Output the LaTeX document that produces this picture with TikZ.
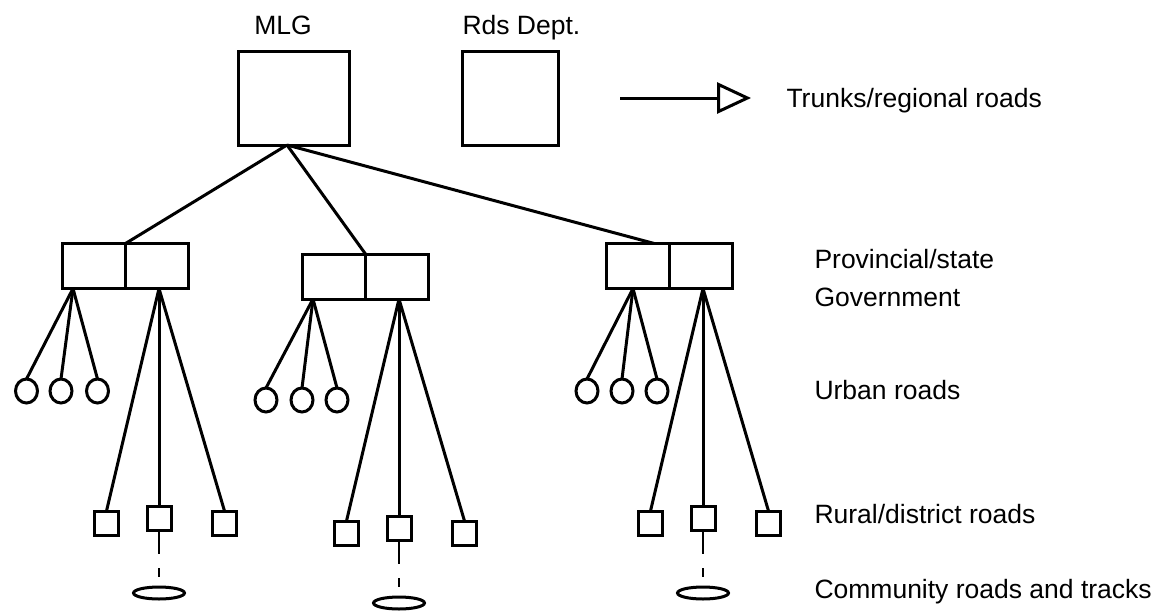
\documentclass[tikz,border=0pt]{standalone}
\usepackage{fontspec}
\setmainfont{Liberation Sans}
\usetikzlibrary{positioning,shapes.geometric,arrows.meta}

\begin{document}
\begin{tikzpicture}[x=1pt,y=-1pt,line width=3pt,
		box/.style={draw,inner sep=0pt,outer sep=0pt,minimum width=63pt,minimum height=45pt},
		urban/.style={draw,ellipse,inner sep=0pt,outer sep=0pt,minimum width=22pt,minimum height=24pt},
		rural/.style={draw,inner sep=0pt,outer sep=0pt,minimum size=24pt},
		community/.style={draw,ellipse,inner sep=0pt,outer sep=0pt,minimum width=51pt,minimum height=12pt},
		lbl/.style={inner sep=0pt,anchor=base west,font=\fontsize{26.5}{31}\selectfont},
		track/.style={line width=1.2pt,dash pattern=on 24pt off 14pt on 9pt off 20pt}]
		\useasboundingbox (0,0) rectangle (1157,611);
		
		\node[draw,inner sep=0pt,outer sep=0pt,minimum width=111pt,minimum height=94pt] (mlg) at (293.5,98) {};
		\node[draw,inner sep=0pt,outer sep=0pt,minimum width=96pt,minimum height=94pt] (rds) at (510,98) {};
		\node[lbl,anchor=base] (lmlg) at (283,34) {MLG};
		\node[lbl] (lrds) at (461,34) {Rds Dept.};
		\coordinate (mlgfoot) at (287,145);
		
		\coordinate (arrs) at (620,98);
		\coordinate (arre) at (751,98);
		\draw[-{Triangle[open,length=34pt,width=31pt]}] (arrs) -- (arre);
		
		\node[box] (pl1) at (94,266) {};
		\node[box,right=0pt of pl1] (pl2) {};
		\node[box] (pm1) at (334,276.5) {};
		\node[box,right=0pt of pm1] (pm2) {};
		\node[box] (pr1) at (637.75,266) {};
		\node[box,right=0pt of pr1] (pr2) {};
		
		\draw (mlgfoot) -- (pl1.north east);
		\draw (mlgfoot) -- (pm1.north east);
		\draw (mlgfoot) -- ([xshift=-15pt]pr1.north east);
		
		\coordinate (ul) at (73,288.5);
		\coordinate (rl) at (159,288.5);
		\coordinate (um) at (313,299);
		\coordinate (rm) at (399,299);
		\coordinate (ur) at (633,288.5);
		\coordinate (rr) at (703,288.5);
		
		\node[urban] (ul1) at (26.5,391) {};
		\node[urban] (ul2) at (61,391) {};
		\node[urban] (ul3) at (97.5,391) {};
		\node[urban] (um1) at (266,400) {};
		\node[urban] (um2) at (302,400) {};
		\node[urban] (um3) at (337,400) {};
		\node[urban] (ur1) at (587,391) {};
		\node[urban] (ur2) at (622,391) {};
		\node[urban] (ur3) at (657,391) {};
		
		\node[rural] (rl1) at (106.5,523) {};
		\node[rural] (rl2) at (159,518) {};
		\node[rural] (rl3) at (224.5,523) {};
		\node[rural] (rm1) at (346.5,533) {};
		\node[rural] (rm2) at (399,528) {};
		\node[rural] (rm3) at (464.5,533) {};
		\node[rural] (rr1) at (650.5,523) {};
		\node[rural] (rr2) at (703,518) {};
		\node[rural] (rr3) at (768.5,523) {};
		
		\node[community] (cl) at (159,593) {};
		\node[community] (cm) at (399,603) {};
		\node[community] (cr) at (703,593) {};
		
		\draw (ul) -- (ul1.north);
		\draw (ul) -- (ul2.north);
		\draw (ul) -- (ul3.north);
		\draw (um) -- (um1.north);
		\draw (um) -- (um2.north);
		\draw (um) -- (um3.north);
		\draw (ur) -- (ur1.north);
		\draw (ur) -- (ur2.north);
		\draw (ur) -- (ur3.north);
		
		\draw (rl) -- (rl1.north);
		\draw (rl) -- (rl2.north);
		\draw (rl) -- (rl3.north);
		\draw (rm) -- (rm1.north);
		\draw (rm) -- (rm2.north);
		\draw (rm) -- (rm3.north);
		\draw (rr) -- (rr1.north);
		\draw (rr) -- (rr2.north);
		\draw (rr) -- (rr3.north);
		
		\draw[track] (rl2.south) -- (cl.north);
		\draw[track] (rm2.south) -- (cm.north);
		\draw[track] (rr2.south) -- (cr.north);
		
		\node[lbl] (ltrunks) at (785,107) {Trunks/regional roads};
		\node[lbl] (lprov) at (813,268) {Provincial/state};
		\node[lbl] (lgovt) at (813,306) {Government};
		\node[lbl] (lurban) at (813,399) {Urban roads};
		\node[lbl] (lrural) at (813,523) {Rural/district roads};
		\node[lbl] (lcomm) at (813,598) {Community roads and tracks};
	\end{tikzpicture}
\end{document}
